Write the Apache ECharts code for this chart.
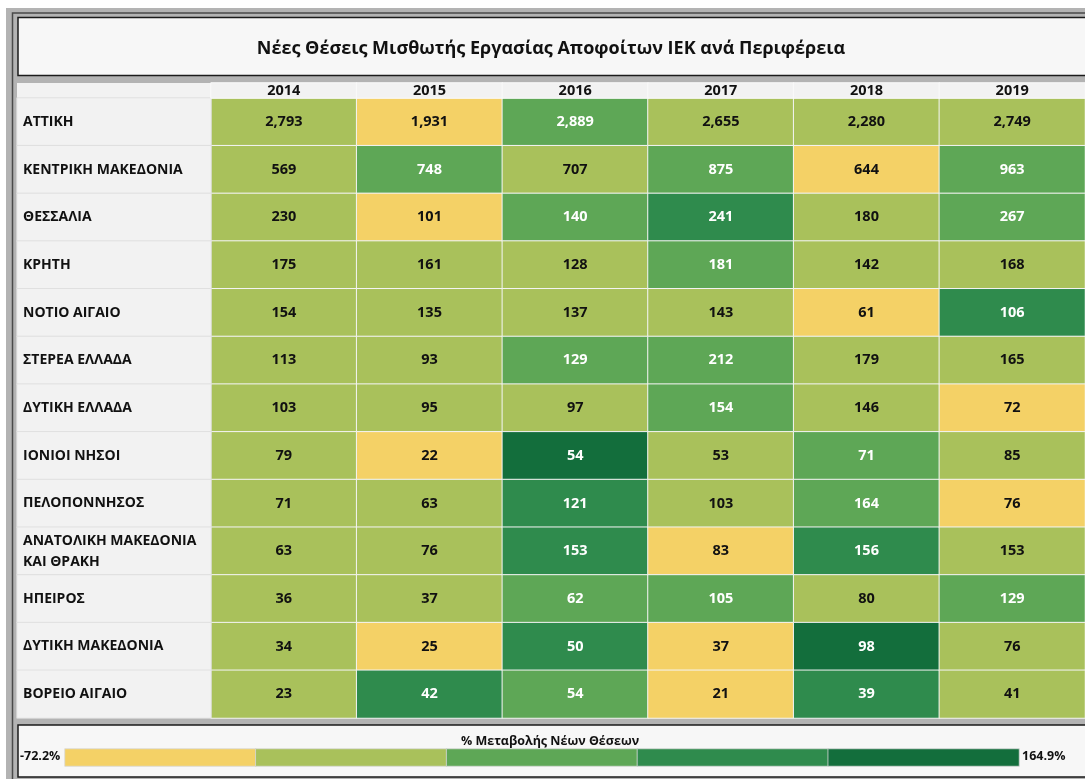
<html>
<head>
<meta charset="utf-8">
<script src="https://cdn.jsdelivr.net/npm/echarts@6/dist/echarts.min.js"></script>
<style>
  html, body, #main { width: 100%; height: 100%; margin: 0; background: #fff; }
</style>
</head>
<body>
<div id="main"></div>
<script>
var years = ['2014', '2015', '2016', '2017', '2018', '2019'];
var regions = [
  'ΑΤΤΙΚΗ', 'ΚΕΝΤΡΙΚΗ ΜΑΚΕΔΟΝΙΑ', 'ΘΕΣΣΑΛΙΑ', 'ΚΡΗΤΗ', 'ΝΟΤΙΟ ΑΙΓΑΙΟ',
  'ΣΤΕΡΕΑ ΕΛΛΑΔΑ', 'ΔΥΤΙΚΗ ΕΛΛΑΔΑ', 'ΙΟΝΙΟΙ ΝΗΣΟΙ', 'ΠΕΛΟΠΟΝΝΗΣΟΣ',
  'ΑΝΑΤΟΛΙΚΗ ΜΑΚΕΔΟΝΙΑ ΚΑΙ ΘΡΑΚΗ', 'ΗΠΕΙΡΟΣ', 'ΔΥΤΙΚΗ ΜΑΚΕΔΟΝΙΑ', 'ΒΟΡΕΙΟ ΑΙΓΑΙΟ'
];

// new positions per year (one value per region, same order)
var jobs2014 = [2793, 569, 230, 175, 154, 113, 103, 79, 71, 63, 36, 34, 23];
var jobs2015 = [1931, 748, 101, 161, 135, 93, 95, 22, 63, 76, 37, 25, 42];
var jobs2016 = [2889, 707, 140, 128, 137, 129, 97, 54, 121, 153, 62, 50, 54];
var jobs2017 = [2655, 875, 241, 181, 143, 212, 154, 53, 103, 83, 105, 37, 21];
var jobs2018 = [2280, 644, 180, 142, 61, 179, 146, 71, 164, 156, 80, 98, 39];
var jobs2019 = [2749, 963, 267, 168, 106, 165, 72, 85, 76, 153, 129, 76, 41];

// colour class of the % change (0 = lowest .. 4 = highest)
var bin2014 = [1, 1, 1, 1, 1, 1, 1, 1, 1, 1, 1, 1, 1];
var bin2015 = [0, 2, 0, 1, 1, 1, 1, 0, 1, 1, 1, 0, 3];
var bin2016 = [2, 1, 2, 1, 1, 2, 1, 4, 3, 3, 2, 3, 2];
var bin2017 = [1, 2, 3, 2, 1, 2, 2, 1, 1, 0, 2, 0, 0];
var bin2018 = [1, 0, 1, 1, 0, 1, 1, 2, 2, 3, 1, 4, 3];
var bin2019 = [1, 2, 2, 1, 3, 1, 0, 1, 0, 1, 2, 1, 1];

var legendRange = ['-72.2%', '164.9%'];
var binColors = ['#F4D166', '#A9C15B', '#5EA756', '#2F8B4D', '#136E3C'];

var jobsByYear = [jobs2014, jobs2015, jobs2016, jobs2017, jobs2018, jobs2019];
var binsByYear = [bin2014, bin2015, bin2016, bin2017, bin2018, bin2019];

var font = 'Open Sans';
var cellData = [];
jobsByYear.forEach(function (col, x) {
  col.forEach(function (v, y) {
    var b = binsByYear[x][y];
    cellData.push({
      value: [x, y, b, v],
      label: { color: b >= 2 ? '#ffffff' : '#111111' }
    });
  });
});

var labelData = regions.map(function (r, i) { return [0, i, 0]; });
var headerData = years.map(function (y, i) { return [i, 0, 0]; });
var legendData = binColors.map(function (c, i) { return [i, 0, i]; });

// wrap long region names on word boundaries (about 20 characters per line)
function wrapName(name) {
  var lines = [], cur = '';
  name.split(' ').forEach(function (w) {
    if (cur && (cur + ' ' + w).length > 20) { lines.push(cur); cur = w; }
    else cur = cur ? cur + ' ' + w : w;
  });
  lines.push(cur);
  return lines.join('\n');
}

var chart = echarts.init(document.getElementById('main'));
var option = {
  animation: false,
  backgroundColor: '#ffffff',
  title: [{
    text: 'Νέες Θέσεις Μισθωτής Εργασίας Αποφοίτων ΙΕΚ ανά Περιφέρεια',
    left: 546, textAlign: 'center', top: 35,
    textStyle: { fontFamily: font, fontSize: 18, fontWeight: 'bold', color: '#111' }
  }, {
    text: '% Μεταβολής Νέων Θέσεων',
    left: 545, textAlign: 'center', top: 730,
    textStyle: { fontFamily: font, fontSize: 12.5, fontWeight: 'bold', color: '#111' }
  }],
  graphic: [
    { type: 'rect', z: -10, shape: { x: 6, y: 8, width: 1100, height: 800 }, style: { fill: '#B3B3B3' } },
    { type: 'rect', z: -9, shape: { x: 12.5, y: 13, width: 1100, height: 800 }, style: { fill: null, stroke: '#4A4A4A', lineWidth: 1.5 } },
    { type: 'rect', z: -8, shape: { x: 18, y: 17.5, width: 1100, height: 58 }, style: { fill: '#F7F7F7', stroke: '#1A1A1A', lineWidth: 1.5 } },
    { type: 'rect', z: -8, shape: { x: 17, y: 83, width: 1100, height: 635 }, style: { fill: '#F4F4F4' } },
    { type: 'rect', z: -7, shape: { x: 17, y: 83, width: 194, height: 15 }, style: { fill: '#F2F2F2' } },
    { type: 'rect', z: -8, shape: { x: 18, y: 725, width: 1100, height: 52 }, style: { fill: '#F7F7F7', stroke: '#1A1A1A', lineWidth: 1.5 } },
    { type: 'text', left: 20, top: 750, style: { text: legendRange[0], font: 'bold 12.5px "Open Sans"', fill: '#111' } },
    { type: 'text', left: 1022, top: 750, style: { text: legendRange[1], font: 'bold 12.5px "Open Sans"', fill: '#111' } }
  ],
  grid: [
    { left: 211, top: 98, width: 880, height: 620 },   // data cells
    { left: 17, top: 98, width: 194, height: 620 },    // region labels
    { left: 211, top: 83, width: 880, height: 15 },    // year header
    { left: 65, top: 749, width: 954, height: 17 }     // colour legend
  ],
  xAxis: [
    { gridIndex: 0, type: 'category', data: years, show: false },
    { gridIndex: 1, type: 'category', data: [''], show: false },
    { gridIndex: 2, type: 'category', data: years, show: false },
    { gridIndex: 3, type: 'category', data: binColors.map(function (c, i) { return i; }), show: false }
  ],
  yAxis: [
    { gridIndex: 0, type: 'category', data: regions, inverse: true, show: false },
    {
      gridIndex: 1, type: 'category', data: regions, inverse: true, z: 5,
      axisLine: { show: false }, axisTick: { show: false }, splitLine: { show: false },
      axisLabel: {
        inside: true, margin: 6, fontFamily: font, fontSize: 14, fontWeight: 'bold',
        color: '#111', lineHeight: 21, formatter: wrapName
      }
    },
    { gridIndex: 2, type: 'category', data: [''], show: false },
    { gridIndex: 3, type: 'category', data: [''], show: false }
  ],
  visualMap: {
    type: 'piecewise', show: false, dimension: 2, seriesIndex: [0, 3],
    pieces: binColors.map(function (c, i) { return { value: i, color: c }; })
  },
  series: [{
    type: 'heatmap', xAxisIndex: 0, yAxisIndex: 0,
    data: cellData,
    itemStyle: { borderColor: '#F4F4F4', borderWidth: 1 },
    label: {
      show: true, fontFamily: font, fontSize: 14.5, fontWeight: 'bold',
      formatter: function (p) { return p.value[3].toLocaleString('en-US'); }
    },
    emphasis: { disabled: true }
  }, {
    type: 'heatmap', xAxisIndex: 1, yAxisIndex: 1,
    data: labelData,
    itemStyle: { color: '#F2F2F2', borderColor: '#DCDCDC', borderWidth: 0.8 },
    label: { show: false },
    emphasis: { disabled: true }
  }, {
    type: 'heatmap', xAxisIndex: 2, yAxisIndex: 2,
    data: headerData,
    itemStyle: { color: '#F2F2F2', borderColor: '#FAFAFA', borderWidth: 1 },
    label: {
      show: true, fontFamily: font, fontSize: 14.5, fontWeight: 'bold', color: '#111',
      formatter: function (p) { return years[p.value[0]]; }
    },
    emphasis: { disabled: true }
  }, {
    type: 'heatmap', xAxisIndex: 3, yAxisIndex: 3,
    data: legendData,
    itemStyle: { borderColor: '#D8D8D8', borderWidth: 0.8 },
    label: { show: false },
    emphasis: { disabled: true }
  }]
};
chart.setOption(option);
window.onresize = chart.resize;
</script>
</body>
</html>
